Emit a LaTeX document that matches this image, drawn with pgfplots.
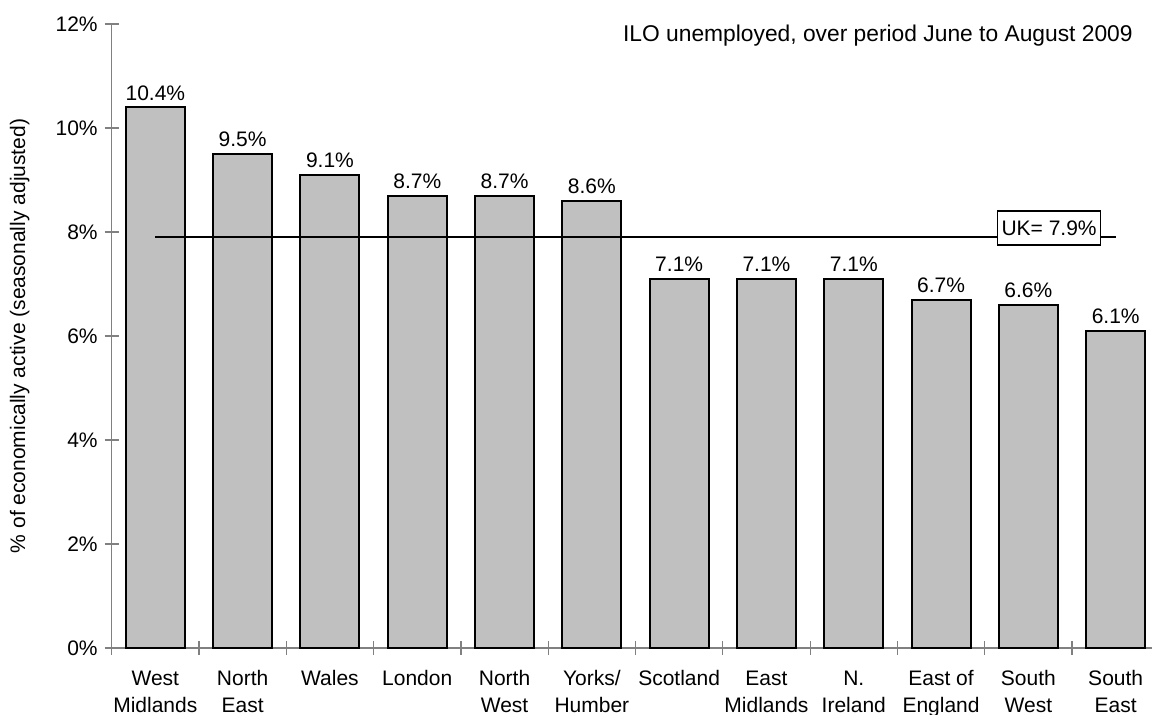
\documentclass[border=0pt]{standalone}
\usepackage{pgfplots}
\pgfplotsset{compat=1.18}
\usepackage{fontspec}
\setmainfont{Liberation Sans}
\definecolor{barfill}{HTML}{C0C0C0}
\definecolor{axgray}{HTML}{808080}
\newcommand\tl[1]{\fontsize{10.5}{13.5}\selectfont\begin{tabular}{@{}c@{}}#1\end{tabular}}
\begin{document}
\begin{tikzpicture}
\useasboundingbox (-55.85pt,-33.5pt) rectangle (520.15pt,324pt);
\begin{axis}[
  at={(0,0)}, anchor=south west,
  scale only axis,
  width=520.15pt, height=312pt,
  xmin=-0.5, xmax=11.416,
  ymin=0, ymax=12,
  axis lines*=left,
  axis line style={axgray, line width=0.6pt},
  tick style={axgray, line width=0.6pt},
  tick align=center,
  major tick length=7pt,
  font=\fontsize{10.5}{13.5}\selectfont,
  /pgf/number format/assume math mode=true,
  ytick={0,2,...,12},
  yticklabel={\pgfmathprintnumber{\tick}\%},
  xtick={-0.5,0.5,...,10.5},
  xticklabels={\tl{West\\Midlands}, \tl{North\\East}, \tl{Wales}, \tl{London}, \tl{North\\West}, \tl{Yorks/\\Humber}, \tl{Scotland}, \tl{East\\Midlands}, \tl{N.\\Ireland}, \tl{East of\\England}, \tl{South\\West}, \tl{South\\East}},
  xticklabel style={xshift=21.825pt, anchor=north, inner sep=0pt, yshift=-5.55pt, black},
  yticklabel style={black},
  ylabel={\% of economically active (seasonally adjusted)},
  ylabel style={at={(axis description cs:-0.0884,0.5)}, anchor=center, inner sep=0pt},
  clip=false,
]
\addplot[ybar, bar width=29.5pt, fill=barfill, draw=black, line width=1pt,
  nodes near coords={\pgfmathprintnumber[fixed,fixed zerofill,precision=1]{\pgfplotspointmeta}\%},
  nodes near coords style={anchor=base, inner sep=0pt, yshift=3.5pt, black},
] coordinates {
  (0,10.4) (1,9.5) (2,9.1) (3,8.7) (4,8.7) (5,8.6)
  (6,7.1) (7,7.1) (8,7.1) (9,6.7) (10,6.6) (11,6.1)
};
\addplot[black, line width=1pt] coordinates {(0,7.9) (11,7.9)};
\node[draw=black, line width=0.8pt, fill=white, inner sep=2pt, minimum height=17pt] at (axis cs:10.237,8.077) {UK= 7.9\%};
\node[anchor=base east, inner sep=0pt, font=\fontsize{11.4}{13.5}\selectfont] at (axis cs:11.199,11.654) {ILO unemployed, over period June to August 2009};
\end{axis}
\end{tikzpicture}
\end{document}
